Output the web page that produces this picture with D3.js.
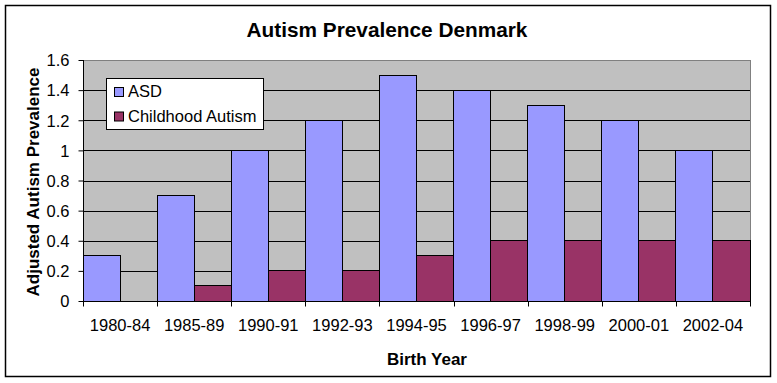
<!DOCTYPE html>
<html>
<head>
<meta charset="utf-8">
<script src="https://cdn.jsdelivr.net/npm/d3@7"></script>
<style>
  body { margin: 0; background: #fff; }
  svg text { font-family: Arial, "Liberation Sans", sans-serif; fill: #000; }
</style>
</head>
<body>
<div id="chart-area"></div>
<script>
var width = 777,
    height = 383;

// data
var years = ["1980-84", "1985-89", "1990-91", "1992-93", "1994-95", "1996-97", "1998-99", "2000-01", "2002-04"];
var asd = [0.3, 0.7, 1.0, 1.2, 1.5, 1.4, 1.3, 1.2, 1.0];
var childhood = [0, 0.1, 0.2, 0.2, 0.3, 0.4, 0.4, 0.4, 0.4];
var seriesNames = ["ASD", "Childhood Autism"];
var seriesColors = ["#9999FF", "#993366"];
var yTicks = [0, 0.2, 0.4, 0.6, 0.8, 1, 1.2, 1.4, 1.6];

var plot = { left: 83, top: 60, right: 750, bottom: 301 };

var svg = d3.select("#chart-area").append("svg")
    .attr("width", width)
    .attr("height", height);

// outer frame
svg.append("rect")
    .attr("x", 5.5).attr("y", 5.5)
    .attr("width", 765).attr("height", 371)
    .attr("fill", "#fff")
    .attr("stroke", "#000")
    .attr("stroke-width", 1.5);

var x0 = d3.scaleBand()
    .domain(years)
    .range([plot.left, plot.right])
    .paddingInner(0).paddingOuter(0);

var x1 = d3.scaleBand()
    .domain(seriesNames)
    .range([0, x0.bandwidth()]);

var y = d3.scaleLinear()
    .domain([0, 1.6])
    .range([plot.bottom, plot.top]);

// plot background
svg.append("rect")
    .attr("x", plot.left).attr("y", plot.top)
    .attr("width", plot.right - plot.left)
    .attr("height", plot.bottom - plot.top)
    .attr("fill", "#C0C0C0")
    .attr("stroke", "#808080")
    .attr("shape-rendering", "crispEdges");

// gridlines
svg.append("g")
    .selectAll("line")
    .data(yTicks.filter(d => d > 0 && d < 1.6))
    .enter()
    .append("line")
    .attr("x1", plot.left).attr("x2", plot.right)
    .attr("y1", d => Math.round(y(d)) + 0.5)
    .attr("y2", d => Math.round(y(d)) + 0.5)
    .attr("stroke", "#000");

// bars
var rows = years.map(function(yr, i) {
  return { year: yr, values: [asd[i], childhood[i]] };
});

var groups = svg.append("g")
    .selectAll("g")
    .data(rows)
    .enter()
    .append("g")
    .attr("transform", d => "translate(" + x0(d.year) + ",0)");

groups.selectAll("rect")
    .data(d => d.values.map((v, j) => ({ name: seriesNames[j], value: v, color: seriesColors[j] })))
    .enter()
    .append("rect")
    .filter(d => d.value > 0)
    .attr("x", d => x1(d.name))
    .attr("width", x1.bandwidth())
    .attr("y", d => y(d.value))
    .attr("height", d => y(0) - y(d.value))
    .attr("fill", d => d.color)
    .attr("stroke", "#000")
    .attr("shape-rendering", "crispEdges");

// y axis
var yAxis = d3.axisLeft(y)
    .tickValues(yTicks)
    .tickSize(5)
    .tickPadding(9)
    .tickFormat(d => String(+d.toFixed(1)));

var gy = svg.append("g")
    .attr("transform", "translate(" + (plot.left + 0.5) + ",0)")
    .call(yAxis);
gy.select(".domain").attr("stroke", "#000").attr("d", "M0," + plot.top + "V" + (plot.bottom + 0.5));
gy.selectAll(".tick line").attr("stroke", "#000");
gy.selectAll("text").style("font-size", "16.5px").attr("dy", "0.35em");

// x axis: labels centred on bands, ticks at band edges
var xAxis = d3.axisBottom(x0).tickSize(0).tickPadding(18);
var gx = svg.append("g")
    .attr("transform", "translate(0," + (plot.bottom + 0.5) + ")")
    .call(xAxis);
gx.select(".domain").attr("stroke", "#000").attr("d", "M" + plot.left + ",0H" + plot.right);
gx.selectAll("text").style("font-size", "16.5px");

gx.selectAll(".edge")
    .data(years.map(d => x0(d)).concat([plot.right]))
    .enter()
    .append("line")
    .attr("class", "edge")
    .attr("x1", d => Math.round(d) + 0.5).attr("x2", d => Math.round(d) + 0.5)
    .attr("y1", 0).attr("y2", 5)
    .attr("stroke", "#000");

// titles
svg.append("text")
    .attr("x", 387).attr("y", 37)
    .attr("text-anchor", "middle")
    .style("font-size", "20.8px").style("font-weight", "bold")
    .text("Autism Prevalence Denmark");

svg.append("text")
    .attr("x", 427).attr("y", 365)
    .attr("text-anchor", "middle")
    .style("font-size", "17px").style("font-weight", "bold")
    .text("Birth Year");

svg.append("text")
    .attr("transform", "translate(39,182) rotate(-90)")
    .attr("text-anchor", "middle")
    .style("font-size", "17px").style("font-weight", "bold")
    .text("Adjusted Autism Prevalence");

// legend
var legend = svg.append("g");
legend.append("rect")
    .attr("x", 106.5).attr("y", 78.5)
    .attr("width", 157).attr("height", 51)
    .attr("fill", "#fff")
    .attr("stroke", "#000");

var items = legend.selectAll(".item")
    .data(seriesNames)
    .enter()
    .append("g")
    .attr("class", "item")
    .attr("transform", (d, i) => "translate(0," + (i * 24.5) + ")");

items.append("rect")
    .attr("x", 114.5).attr("y", 87.5)
    .attr("width", 9).attr("height", 9)
    .attr("fill", (d, i) => seriesColors[i])
    .attr("stroke", "#000");

items.append("text")
    .attr("x", 128).attr("y", 97)
    .style("font-size", "16.5px")
    .text(d => d);
</script>
</body>
</html>
